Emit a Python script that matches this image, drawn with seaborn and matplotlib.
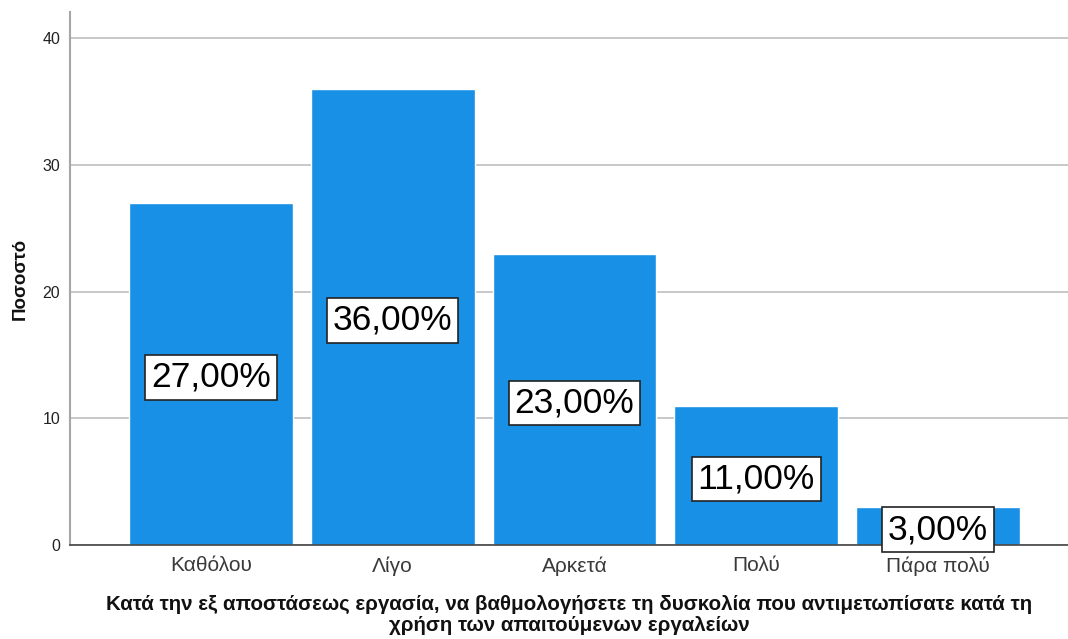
import matplotlib
matplotlib.use("Agg")
import matplotlib.pyplot as plt
import seaborn as sns
import pandas as pd

categories = ["Καθόλου", "Λίγο", "Αρκετά", "Πολύ", "Πάρα πολύ"]
percent = [27.0, 36.0, 23.0, 11.0, 3.0]
yticks = [0, 10, 20, 30, 40]
xlabel = ("Κατά την εξ αποστάσεως εργασία, να βαθμολογήσετε τη δυσκολία που αντιμετωπίσατε κατά τη\n"
          "χρήση των απαιτούμενων εργαλείων")
ylabel = "Ποσοστό"

sns.set_style("white")
plt.rcParams["font.family"] = ["Liberation Sans", "DejaVu Sans"]

df = pd.DataFrame({"cat": categories, "pct": percent})

fig = plt.figure(figsize=(10.68, 6.39), dpi=100)
ax = fig.add_axes([0.0655, 0.147, 0.9345, 0.834])

sns.barplot(data=df, x="cat", y="pct", order=categories, color="#1790e6",
            saturation=1, width=0.9, ax=ax, zorder=3)

ax.set_ylim(0, 42.05)
ax.set_xlim(-0.776, 4.715)
ax.set_yticks(yticks)
ax.set_yticklabels([str(t) for t in yticks], fontsize=11.5, color="#222222")
ax.tick_params(axis="both", length=0)
ax.tick_params(axis="x", labelsize=15, colors="#3a3a3a", pad=8)
ax.tick_params(axis="y", pad=7)
ax.yaxis.grid(True, color="#c8c8c8", linewidth=1.4, zorder=0)
ax.set_axisbelow(True)

for side in ["top", "right"]:
    ax.spines[side].set_visible(False)
ax.spines["left"].set_color("#a6a6a6")
ax.spines["left"].set_linewidth(1.5)
ax.spines["bottom"].set_color("#444444")
ax.spines["bottom"].set_linewidth(1.2)
ax.spines["bottom"].set_zorder(4)

ax.set_xlabel(xlabel, fontsize=14.8, fontweight="bold", labelpad=14, linespacing=1.1,
              color="#111111")
ax.set_ylabel(ylabel, fontsize=13.5, fontweight="bold", labelpad=10, color="#111111")

for i, v in enumerate(percent):
    ax.text(i, v / 2, f"{v:.2f}".replace(".", ",") + "%", ha="center", va="center_baseline",
            fontsize=25.5, color="black", zorder=5,
            bbox=dict(boxstyle="square,pad=0.16", facecolor="white",
                      edgecolor="#222222", linewidth=1.2))

fig.savefig("out.png", dpi=100)
